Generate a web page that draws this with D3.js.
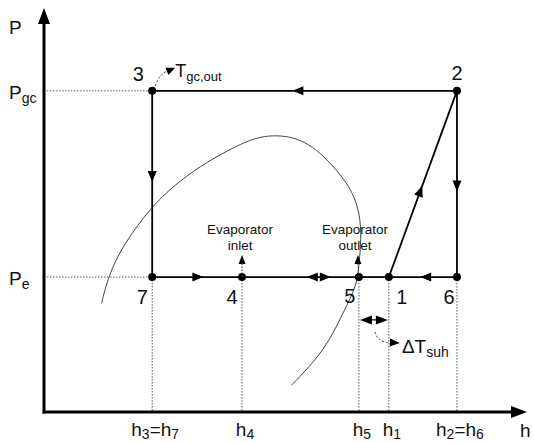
<!DOCTYPE html>
<html><head><meta charset="utf-8">
<script src="https://cdn.jsdelivr.net/npm/d3@7"></script>
<style>body{margin:0;background:#fff}svg{display:block}text{font-family:"Liberation Sans",Arial,sans-serif;fill:#111}</style>
</head><body><div id="chart"></div>
<script>
// ---- data (schematic P-h diagram, normalised units 0..100) ----
const stateNames = ["1", "2", "3", "4", "5", "6", "7"];
const stateH = [71.4, 85.5, 22.4, 41.0, 65.2, 85.5, 22.4];
const stateP = [33.4, 79.5, 79.5, 33.4, 33.4, 33.4, 33.4];
const domeH = [11.95, 13.25, 16.4, 22.4, 26.7, 32.3, 38.5, 41.5, 44.1, 47.2, 50.9, 54.0, 57.1, 61.9, 64.4, 65.6, 65.6, 65.2, 64.8, 61.9, 58.2, 51.3];
const domeP = [27.0, 33.4, 41.5, 51.0, 55.8, 60.9, 65.0, 66.7, 67.9, 68.5, 68.2, 66.8, 64.4, 58.2, 53.2, 47.5, 41.3, 36.4, 31.4, 24.5, 15.3, 6.7];
const hTickValues = [22.4, 41.0, 65.2, 71.4, 85.5];
const hTickLabels = ["h_{3}=h_{7}", "h_{4}", "h_{5}", "h_{1}", "h_{2}=h_{6}"];
const pTickValues = [79.5, 33.4];
const pTickLabels = ["P_{gc}", "P_{e}"];
const superheatP = 22.8;

const W = 534, H = 443;
const svg = d3.select("#chart").append("svg").attr("width", W).attr("height", H);
const x = d3.scaleLinear().domain([0, 100]).range([44, 527]);
const y = d3.scaleLinear().domain([0, 100]).range([412, 8]);
const S = i => ({x: x(stateH[i]), y: y(stateP[i])});

function rich(sel, str, size, subSize, subDy) {
  sel.attr("font-size", size);
  const parts = str.split(/(_\{[^}]*\})/).filter(s => s.length);
  let shifted = false;
  parts.forEach(p => {
    if (p.startsWith("_{")) {
      sel.append("tspan").attr("font-size", subSize).attr("dy", subDy).text(p.slice(2, -1));
      shifted = true;
    } else {
      sel.append("tspan").attr("dy", shifted ? -subDy : 0).text(p);
      shifted = false;
    }
  });
  return sel;
}
function head(g, tx, ty, ang, len, hw, color) {
  const c = Math.cos(ang), s = Math.sin(ang);
  const bx = tx - c * len, by = ty - s * len;
  const pts = [[tx, ty], [bx - s * hw, by + c * hw], [bx + s * hw, by - c * hw]];
  g.append("path").attr("d", "M" + pts.map(p => p.join(",")).join("L") + "Z").attr("fill", color || "#000");
}

// ---- dotted guide lines ----
const guides = svg.append("g").attr("stroke", "#555").attr("stroke-width", 1).attr("stroke-dasharray", "1.5,1.5").attr("fill", "none");
hTickValues.forEach(h => {
  guides.append("line").attr("x1", x(h)).attr("x2", x(h)).attr("y1", y(stateP[3])).attr("y2", y(0));
});
pTickValues.forEach(p => {
  guides.append("line").attr("x1", x(0)).attr("x2", x(stateH[2])).attr("y1", y(p)).attr("y2", y(p));
});

// ---- saturation dome ----
const domePts = domeH.map((h, i) => [x(h), y(domeP[i])]);
svg.append("path").attr("d", d3.line().curve(d3.curveBasis)(domePts))
  .attr("fill", "none").attr("stroke", "#444").attr("stroke-width", 1);

// ---- axes ----
const ax = svg.append("g");
ax.append("line").attr("x1", x(0)).attr("x2", x(0)).attr("y1", y(0) + 1.5).attr("y2", y(100) + 14).attr("stroke", "#000").attr("stroke-width", 3);
ax.append("line").attr("x1", x(0) - 1.5).attr("x2", x(100) - 12).attr("y1", y(0)).attr("y2", y(0)).attr("stroke", "#000").attr("stroke-width", 3);
head(ax, x(0), y(100), -Math.PI / 2, 16, 6);
head(ax, x(100), y(0), 0, 16, 6);
rich(ax.append("text").attr("x", 9).attr("y", y(100) + 26), "P", 19, 14, 5);
rich(ax.append("text").attr("x", x(100) - 7).attr("y", y(0) + 25), "h", 19, 14, 3);

// tick labels
hTickValues.forEach((h, i) => {
  rich(svg.append("text").attr("x", x(h) + 3).attr("y", y(0) + 24).attr("text-anchor", "middle"), hTickLabels[i], 19, 14, 3);
});
pTickValues.forEach((p, i) => {
  rich(svg.append("text").attr("x", 9).attr("y", y(p) + 8), pTickLabels[i], 19, 14, 4);
});

// ---- cycle lines ----
const cyc = svg.append("g");
const segs = [[0, 1, 0.49], [1, 2, 0.54], [2, 6, 0.49], [6, 3, 0.57], [3, 4, -1], [4, 0, -1], [5, 0, 0.54], [1, 5, 0.54]];
segs.forEach(([a, b, f]) => {
  const A = S(a), B = S(b);
  cyc.append("line").attr("x1", A.x).attr("y1", A.y).attr("x2", B.x).attr("y2", B.y).attr("stroke", "#000").attr("stroke-width", 1.8);
  if (f > 0) {
    const ang = Math.atan2(B.y - A.y, B.x - A.x);
    head(cyc, A.x + (B.x - A.x) * f, A.y + (B.y - A.y) * f, ang, 11, 4.5);
  }
});
const mid45 = x(56.9), yPe = y(stateP[3]);
head(cyc, mid45 - 12, yPe, Math.PI, 11, 4.5);
head(cyc, mid45 + 12, yPe, 0, 11, 4.5);

stateNames.forEach((n, i) => {
  const p = S(i);
  cyc.append("circle").attr("cx", p.x).attr("cy", p.y).attr("r", 4).attr("fill", "#000");
});
const labOff = {"1": [13, 27], "2": [0, -11], "3": [-14, -10], "4": [-10, 27], "5": [-9, 26], "6": [-8, 27], "7": [-10, 27]};
stateNames.forEach((n, i) => {
  const p = S(i);
  svg.append("text").attr("x", p.x + labOff[n][0]).attr("y", p.y + labOff[n][1]).attr("text-anchor", "middle").attr("font-size", 20).text(n);
});

// ---- evaporator inlet / outlet arrows ----
[[3, "inlet", -2], [4, "outlet", -4]].forEach(([i, word, dx]) => {
  const p = S(i);
  const g = svg.append("g");
  const ox = i === 4 ? 1 : 0;
  g.append("line").attr("x1", p.x).attr("x2", p.x - ox).attr("y1", p.y).attr("y2", p.y - 14)
    .attr("stroke", "#444").attr("stroke-width", 1.2).attr("stroke-dasharray", "1.5,1.5");
  head(g, p.x - ox, p.y - 22, -Math.PI / 2, 9, 3.5);
  const t = g.append("text").attr("text-anchor", "middle").attr("font-size", 13.5).attr("fill", "#222");
  t.append("tspan").attr("x", p.x + dx).attr("y", p.y - 43).text("Evaporator");
  t.append("tspan").attr("x", p.x + dx).attr("y", p.y - 27).text(word);
});

// ---- superheat double arrow ----
const ySh = y(superheatP), x5 = S(4).x, x1 = S(0).x, xm = (x5 + x1) / 2;
svg.append("line").attr("x1", x5 + 4).attr("x2", x1 - 4).attr("y1", ySh).attr("y2", ySh).attr("stroke", "#000").attr("stroke-width", 1.2);
head(svg, x5 + 1, ySh, Math.PI, 12, 4.5);
head(svg, x1 - 1, ySh, 0, 12, 4.5);
const ga = svg.append("g");
ga.append("path").attr("d", `M${xm + 1},${ySh + 12} Q${xm + 3},${ySh + 22} ${xm + 17},${ySh + 23}`)
  .attr("fill", "none").attr("stroke", "#333").attr("stroke-width", 1).attr("stroke-dasharray", "2,2");
head(ga, xm + 26, ySh + 23, 0.05, 10, 4);
rich(ga.append("text").attr("x", xm + 28).attr("y", ySh + 33), "ΔT_{suh}", 19, 14, 4);

// ---- curved dashed pointer to Tgc,out ----
const p3 = S(2);
const gt = svg.append("g");
gt.append("path").attr("d", `M${p3.x + 3},${p3.y - 5} Q${p3.x + 7},${p3.y - 17} ${p3.x + 16},${p3.y - 20}`)
  .attr("fill", "none").attr("stroke", "#333").attr("stroke-width", 1).attr("stroke-dasharray", "2,2");
head(gt, p3.x + 23, p3.y - 23, -0.4, 9, 4);
rich(gt.append("text").attr("x", p3.x + 23).attr("y", p3.y - 14), "T_{gc,out}", 18, 13, 4);
</script></body></html>
